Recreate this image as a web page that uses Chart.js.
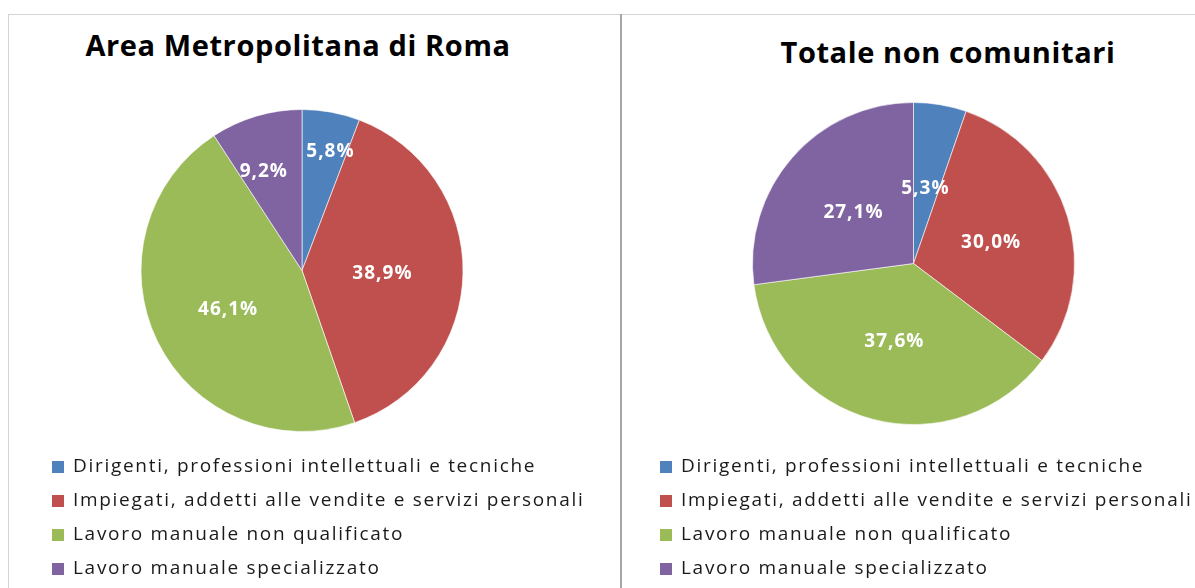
<!DOCTYPE html>
<html>
<head>
<meta charset="utf-8">
<script src="https://cdn.jsdelivr.net/npm/chart.js@4.4.1/dist/chart.umd.min.js"></script>
<style>
  body { margin: 0; background: #fff; width: 1195px; height: 588px; overflow: hidden; position: relative; font-family: 'Open Sans', sans-serif; }
  .line { position: absolute; }
  .title { position: absolute; width: 600px; text-align: center; font-weight: bold; font-size: 29px; line-height: 29px; letter-spacing: 0.6px; color: #000; white-space: nowrap; }
  canvas { position: absolute; }
</style>
</head>
<body>
<div class="line" style="left:8px;top:14px;width:1187px;height:1px;background:#d4d4d4"></div>
<div class="line" style="left:8px;top:14px;width:1px;height:574px;background:#d4d4d4"></div>
<div class="line" style="left:620px;top:14px;width:2px;height:574px;background:#a6a6a6"></div>

<div class="title" id="title0" style="left:-2px;top:30px"></div>
<div class="title" id="title1" style="left:648px;top:37px"></div>

<canvas id="chartRoma" width="611" height="573" style="left:9px;top:15px"></canvas>
<canvas id="chartNonCom" width="573" height="573" style="left:622px;top:15px"></canvas>

<script>
// Data
const categories = [
  'Dirigenti, professioni intellettuali e tecniche',
  'Impiegati, addetti alle vendite e servizi personali',
  'Lavoro manuale non qualificato',
  'Lavoro manuale specializzato'
];
const chartTitles = ['Area Metropolitana di Roma', 'Totale non comunitari'];
const romaValues = [5.8, 38.9, 46.1, 9.2];
const nonComValues = [5.3, 30.0, 37.6, 27.1];

// Excel 2007 palette
const sliceColors = ['#4F81BD', '#C0504D', '#9BBB59', '#8064A2'];

function formatPct(v) {
  return v.toFixed(1).replace('.', ',') + '%';
}

// Draw the percentage inside each slice
const sliceLabelPlugin = {
  id: 'sliceLabels',
  afterDatasetsDraw(chart, args, opts) {
    const ctx = chart.ctx;
    const meta = chart.getDatasetMeta(0);
    const values = chart.data.datasets[0].data;
    ctx.save();
    ctx.letterSpacing = '1px';
    ctx.font = 'bold 19px "Open Sans"';
    ctx.fillStyle = '#fff';
    ctx.textAlign = 'center';
    ctx.textBaseline = 'middle';
    meta.data.forEach((arc, i) => {
      const p = arc.getProps(['x', 'y', 'startAngle', 'endAngle', 'outerRadius'], true);
      const mid = (p.startAngle + p.endAngle) / 2 + opts.shift[i] * Math.PI / 180;
      const r = p.outerRadius * opts.radius[i];
      ctx.fillText(formatPct(values[i]), p.x + Math.cos(mid) * r, p.y + Math.sin(mid) * r);
    });
    ctx.restore();
  }
};

// Legend below the pie, one item per row, left aligned like the Excel one
// (the built-in legend is clipped to the chart area width)
const listLegendPlugin = {
  id: 'listLegend',
  afterDraw(chart, args, opts) {
    const ctx = chart.ctx;
    const items = Chart.overrides.doughnut.plugins.legend.labels.generateLabels(chart);
    ctx.save();
    ctx.letterSpacing = '1.7px';
    ctx.font = '19px "Open Sans"';
    ctx.textAlign = 'left';
    ctx.textBaseline = 'middle';
    items.forEach((item, i) => {
      const y = opts.top + i * opts.rowHeight;
      ctx.fillStyle = item.fillStyle;
      ctx.fillRect(opts.left, y - 6, 12, 12);
      ctx.fillStyle = '#1a1a1a';
      ctx.fillText(item.text, opts.left + 21, y);
    });
    ctx.restore();
  }
};

function createPie(canvasId, values, padding, legendLeft, labelRadius, labelShift) {
  const ctx = document.getElementById(canvasId).getContext('2d');
  return new Chart(ctx, {
    type: 'pie',
    data: {
      labels: categories,
      datasets: [{
        data: values,
        backgroundColor: sliceColors,
        borderColor: 'rgba(255,255,255,0.6)',
        borderWidth: 1
      }]
    },
    options: {
      responsive: false,
      animation: false,
      radius: 161,
      layout: { padding: padding },
      plugins: {
        legend: { display: false },
        tooltip: { enabled: false },
        listLegend: { left: legendLeft, top: 452, rowHeight: 34 },
        sliceLabels: { radius: labelRadius, shift: labelShift }
      }
    },
    plugins: [sliceLabelPlugin, listLegendPlugin]
  });
}

document.getElementById('title0').textContent = chartTitles[0];
document.getElementById('title1').textContent = chartTitles[1];

createPie('chartRoma', romaValues, { left: 0, right: 25, top: 84, bottom: 146 }, 43,
  [0.76, 0.5, 0.52, 0.66], [3, 1.5, -2, -4.5]);
createPie('chartNonCom', nonComValues, { left: 10, right: 0, top: 70, bottom: 146 }, 38,
  [0.47, 0.5, 0.5, 0.49], [-0.5, 1.5, -1, -0.8]);
</script>
</body>
</html>
